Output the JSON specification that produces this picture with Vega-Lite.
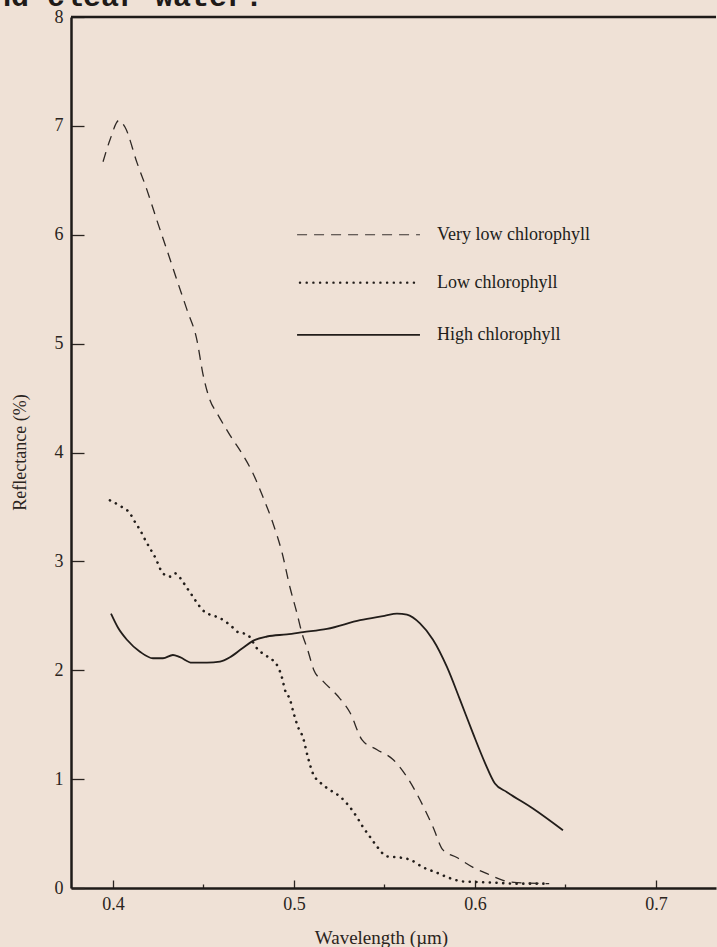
{
  "$schema": "https://vega.github.io/schema/vega-lite/v6.json",
  "width": 645,
  "height": 871,
  "autosize": {"type": "none"},
  "padding": {"left": 71, "top": 17, "right": 1, "bottom": 59},
  "background": "#efe1d6",
  "config": {
    "view": {"stroke": null},
    "font": "Liberation Serif"
  },
  "datasets": {
    "curves": [
      {"s": "High chlorophyll", "w": 0.3989, "r": 2.52},
      {"s": "High chlorophyll", "w": 0.4028, "r": 2.39},
      {"s": "High chlorophyll", "w": 0.4077, "r": 2.28},
      {"s": "High chlorophyll", "w": 0.4149, "r": 2.17},
      {"s": "High chlorophyll", "w": 0.4221, "r": 2.11},
      {"s": "High chlorophyll", "w": 0.4276, "r": 2.11},
      {"s": "High chlorophyll", "w": 0.4331, "r": 2.14},
      {"s": "High chlorophyll", "w": 0.437, "r": 2.12},
      {"s": "High chlorophyll", "w": 0.4436, "r": 2.07},
      {"s": "High chlorophyll", "w": 0.4519, "r": 2.07},
      {"s": "High chlorophyll", "w": 0.4591, "r": 2.08},
      {"s": "High chlorophyll", "w": 0.4646, "r": 2.12},
      {"s": "High chlorophyll", "w": 0.4713, "r": 2.2},
      {"s": "High chlorophyll", "w": 0.4773, "r": 2.27},
      {"s": "High chlorophyll", "w": 0.4851, "r": 2.31},
      {"s": "High chlorophyll", "w": 0.4961, "r": 2.33},
      {"s": "High chlorophyll", "w": 0.505, "r": 2.35},
      {"s": "High chlorophyll", "w": 0.5182, "r": 2.38},
      {"s": "High chlorophyll", "w": 0.5365, "r": 2.46},
      {"s": "High chlorophyll", "w": 0.55, "r": 2.5},
      {"s": "High chlorophyll", "w": 0.5569, "r": 2.52},
      {"s": "High chlorophyll", "w": 0.5624, "r": 2.51},
      {"s": "High chlorophyll", "w": 0.5696, "r": 2.43},
      {"s": "High chlorophyll", "w": 0.5768, "r": 2.28},
      {"s": "High chlorophyll", "w": 0.5845, "r": 2.03},
      {"s": "High chlorophyll", "w": 0.5917, "r": 1.73},
      {"s": "High chlorophyll", "w": 0.5989, "r": 1.42},
      {"s": "High chlorophyll", "w": 0.6055, "r": 1.15},
      {"s": "High chlorophyll", "w": 0.611, "r": 0.96},
      {"s": "High chlorophyll", "w": 0.6177, "r": 0.88},
      {"s": "High chlorophyll", "w": 0.632, "r": 0.73},
      {"s": "High chlorophyll", "w": 0.6486, "r": 0.53},

      {"s": "Low chlorophyll", "w": 0.3983, "r": 3.56},
      {"s": "Low chlorophyll", "w": 0.4039, "r": 3.51},
      {"s": "Low chlorophyll", "w": 0.4094, "r": 3.44},
      {"s": "Low chlorophyll", "w": 0.4122, "r": 3.36},
      {"s": "Low chlorophyll", "w": 0.4149, "r": 3.29},
      {"s": "Low chlorophyll", "w": 0.4177, "r": 3.2},
      {"s": "Low chlorophyll", "w": 0.4204, "r": 3.12},
      {"s": "Low chlorophyll", "w": 0.4232, "r": 3.04},
      {"s": "Low chlorophyll", "w": 0.4276, "r": 2.89},
      {"s": "Low chlorophyll", "w": 0.4315, "r": 2.86},
      {"s": "Low chlorophyll", "w": 0.4343, "r": 2.89},
      {"s": "Low chlorophyll", "w": 0.437, "r": 2.85},
      {"s": "Low chlorophyll", "w": 0.4403, "r": 2.77},
      {"s": "Low chlorophyll", "w": 0.4436, "r": 2.69},
      {"s": "Low chlorophyll", "w": 0.4464, "r": 2.62},
      {"s": "Low chlorophyll", "w": 0.4497, "r": 2.55},
      {"s": "Low chlorophyll", "w": 0.4536, "r": 2.51},
      {"s": "Low chlorophyll", "w": 0.4575, "r": 2.49},
      {"s": "Low chlorophyll", "w": 0.4619, "r": 2.45},
      {"s": "Low chlorophyll", "w": 0.4657, "r": 2.4},
      {"s": "Low chlorophyll", "w": 0.469, "r": 2.35},
      {"s": "Low chlorophyll", "w": 0.474, "r": 2.33},
      {"s": "Low chlorophyll", "w": 0.4801, "r": 2.19},
      {"s": "Low chlorophyll", "w": 0.484, "r": 2.14},
      {"s": "Low chlorophyll", "w": 0.4884, "r": 2.09},
      {"s": "Low chlorophyll", "w": 0.4912, "r": 2.03},
      {"s": "Low chlorophyll", "w": 0.4934, "r": 1.93},
      {"s": "Low chlorophyll", "w": 0.495, "r": 1.82},
      {"s": "Low chlorophyll", "w": 0.4978, "r": 1.73},
      {"s": "Low chlorophyll", "w": 0.4994, "r": 1.63},
      {"s": "Low chlorophyll", "w": 0.5022, "r": 1.48},
      {"s": "Low chlorophyll", "w": 0.505, "r": 1.38},
      {"s": "Low chlorophyll", "w": 0.5077, "r": 1.2},
      {"s": "Low chlorophyll", "w": 0.5105, "r": 1.05},
      {"s": "Low chlorophyll", "w": 0.5144, "r": 0.97},
      {"s": "Low chlorophyll", "w": 0.5199, "r": 0.9},
      {"s": "Low chlorophyll", "w": 0.5254, "r": 0.84},
      {"s": "Low chlorophyll", "w": 0.531, "r": 0.74},
      {"s": "Low chlorophyll", "w": 0.5348, "r": 0.65},
      {"s": "Low chlorophyll", "w": 0.5381, "r": 0.56},
      {"s": "Low chlorophyll", "w": 0.542, "r": 0.47},
      {"s": "Low chlorophyll", "w": 0.5459, "r": 0.38},
      {"s": "Low chlorophyll", "w": 0.5514, "r": 0.29},
      {"s": "Low chlorophyll", "w": 0.5586, "r": 0.28},
      {"s": "Low chlorophyll", "w": 0.5641, "r": 0.26},
      {"s": "Low chlorophyll", "w": 0.5713, "r": 0.19},
      {"s": "Low chlorophyll", "w": 0.579, "r": 0.14},
      {"s": "Low chlorophyll", "w": 0.5862, "r": 0.09},
      {"s": "Low chlorophyll", "w": 0.5934, "r": 0.06},
      {"s": "Low chlorophyll", "w": 0.601, "r": 0.055},
      {"s": "Low chlorophyll", "w": 0.61, "r": 0.05},
      {"s": "Low chlorophyll", "w": 0.623, "r": 0.04},
      {"s": "Low chlorophyll", "w": 0.641, "r": 0.04},

      {"s": "Very low chlorophyll", "w": 0.3945, "r": 6.67},
      {"s": "Very low chlorophyll", "w": 0.3983, "r": 6.87},
      {"s": "Very low chlorophyll", "w": 0.4033, "r": 7.05},
      {"s": "Very low chlorophyll", "w": 0.4066, "r": 6.99},
      {"s": "Very low chlorophyll", "w": 0.4133, "r": 6.66},
      {"s": "Very low chlorophyll", "w": 0.4188, "r": 6.41},
      {"s": "Very low chlorophyll", "w": 0.4243, "r": 6.13},
      {"s": "Very low chlorophyll", "w": 0.4298, "r": 5.86},
      {"s": "Very low chlorophyll", "w": 0.4354, "r": 5.58},
      {"s": "Very low chlorophyll", "w": 0.4409, "r": 5.31},
      {"s": "Very low chlorophyll", "w": 0.4464, "r": 5.03},
      {"s": "Very low chlorophyll", "w": 0.4497, "r": 4.72},
      {"s": "Very low chlorophyll", "w": 0.4536, "r": 4.48},
      {"s": "Very low chlorophyll", "w": 0.4575, "r": 4.36},
      {"s": "Very low chlorophyll", "w": 0.4646, "r": 4.16},
      {"s": "Very low chlorophyll", "w": 0.4713, "r": 3.99},
      {"s": "Very low chlorophyll", "w": 0.4773, "r": 3.81},
      {"s": "Very low chlorophyll", "w": 0.4829, "r": 3.59},
      {"s": "Very low chlorophyll", "w": 0.4884, "r": 3.35},
      {"s": "Very low chlorophyll", "w": 0.4934, "r": 3.08},
      {"s": "Very low chlorophyll", "w": 0.4978, "r": 2.76},
      {"s": "Very low chlorophyll", "w": 0.5017, "r": 2.52},
      {"s": "Very low chlorophyll", "w": 0.5044, "r": 2.34},
      {"s": "Very low chlorophyll", "w": 0.5075, "r": 2.19},
      {"s": "Very low chlorophyll", "w": 0.511, "r": 2.0},
      {"s": "Very low chlorophyll", "w": 0.516, "r": 1.9},
      {"s": "Very low chlorophyll", "w": 0.5238, "r": 1.77},
      {"s": "Very low chlorophyll", "w": 0.531, "r": 1.61},
      {"s": "Very low chlorophyll", "w": 0.5376, "r": 1.36},
      {"s": "Very low chlorophyll", "w": 0.5459, "r": 1.27},
      {"s": "Very low chlorophyll", "w": 0.5547, "r": 1.18},
      {"s": "Very low chlorophyll", "w": 0.5624, "r": 1.02},
      {"s": "Very low chlorophyll", "w": 0.5696, "r": 0.81},
      {"s": "Very low chlorophyll", "w": 0.5768, "r": 0.56},
      {"s": "Very low chlorophyll", "w": 0.5823, "r": 0.35},
      {"s": "Very low chlorophyll", "w": 0.59, "r": 0.28},
      {"s": "Very low chlorophyll", "w": 0.5989, "r": 0.19},
      {"s": "Very low chlorophyll", "w": 0.6083, "r": 0.12},
      {"s": "Very low chlorophyll", "w": 0.6155, "r": 0.07},
      {"s": "Very low chlorophyll", "w": 0.6232, "r": 0.05},
      {"s": "Very low chlorophyll", "w": 0.641, "r": 0.04}
    ],
    "one": [{}]
  },
  "layer": [
    {
      "data": {"name": "curves"},
      "transform": [{"filter": "datum.s === 'High chlorophyll'"}],
      "mark": {"type": "line", "interpolate": "monotone", "color": "#221d1a", "strokeWidth": 1.8},
      "encoding": {
        "x": {
          "field": "w", "type": "quantitative",
          "scale": {"domain": [0.3768, 0.73315], "nice": false, "zero": false},
          "axis": {
            "orient": "bottom",
            "values": [0.4, 0.45, 0.5, 0.55, 0.6, 0.65, 0.7],
            "labelExpr": "round(datum.value*100) % 10 == 0 ? format(datum.value, '.1f') : ''",
            "tickSize": {"condition": {"test": "round(datum.value*100) % 10 != 0", "value": -4}, "value": -8},
            "tickColor": "#2a2420",
            "tickWidth": 1.3,
            "domainColor": "#1e1a18",
            "domainWidth": 2.5,
            "grid": false,
            "labelFont": "Liberation Serif",
            "labelFontSize": 18,
            "labelColor": "#2a2420",
            "labelPadding": 15,
            "title": "Wavelength (µm)",
            "titleFont": "Liberation Serif",
            "titleFontSize": 19,
            "titleFontWeight": "normal",
            "titleColor": "#2a2420",
            "titleX": 310,
            "titleY": 49,
            "titleAlign": "center",
            "titleBaseline": "middle"
          }
        },
        "y": {
          "field": "r", "type": "quantitative",
          "scale": {"domain": [0, 8], "nice": false},
          "axis": {
            "values": [0, 1, 2, 3, 4, 5, 6, 7, 8],
            "format": "d",
            "tickSize": -13,
            "tickColor": "#2a2420",
            "tickWidth": 1.3,
            "domainColor": "#1e1a18",
            "domainWidth": 2.5,
            "grid": false,
            "labelFont": "Liberation Serif",
            "labelFontSize": 18,
            "labelColor": "#2a2420",
            "labelPadding": 21,
            "title": "Reflectance (%)",
            "titleFont": "Liberation Serif",
            "titleFontSize": 18,
            "titleFontWeight": "normal",
            "titleColor": "#2a2420",
            "titleX": -51,
            "titleY": 435,
            "titleAlign": "center",
            "titleBaseline": "middle"
          }
        }
      }
    },
    {
      "data": {"name": "curves"},
      "transform": [{"filter": "datum.s === 'Low chlorophyll'"}],
      "mark": {"type": "line", "interpolate": "monotone", "color": "#221d1a", "strokeWidth": 2.6, "strokeDash": [0.1, 6.6], "strokeCap": "round"},
      "encoding": {
        "x": {"field": "w", "type": "quantitative"},
        "y": {"field": "r", "type": "quantitative"}
      }
    },
    {
      "data": {"name": "curves"},
      "transform": [{"filter": "datum.s === 'Very low chlorophyll'"}],
      "mark": {"type": "line", "interpolate": "monotone", "color": "#2e2824", "strokeWidth": 1.3, "strokeDash": [10, 7]},
      "encoding": {
        "x": {"field": "w", "type": "quantitative"},
        "y": {"field": "r", "type": "quantitative"}
      }
    },
    {
      "data": {"name": "one"},
      "mark": {"type": "rule", "color": "#1e1a18", "strokeWidth": 2.5},
      "encoding": {"y": {"datum": 8, "type": "quantitative"}}
    },
    {
      "data": {"name": "one"},
      "mark": {"type": "text", "align": "left", "baseline": "alphabetic", "font": "Liberation Mono", "fontSize": 30, "fontWeight": "bold", "color": "#1e1a18"},
      "encoding": {
        "x": {"datum": 0.32376, "type": "quantitative"},
        "y": {"datum": 8.101, "type": "quantitative"},
        "text": {"value": "and clear water."}
      }
    },
    {
      "data": {"name": "one"},
      "mark": {"type": "rule", "color": "#3a3330", "strokeWidth": 1.2, "strokeDash": [10, 7]},
      "encoding": {
        "x": {"datum": 0.5017, "type": "quantitative"},
        "x2": {"datum": 0.5696},
        "y": {"datum": 6.0, "type": "quantitative"}
      }
    },
    {
      "data": {"name": "one"},
      "mark": {"type": "rule", "color": "#221d1a", "strokeWidth": 2.4, "strokeDash": [0.1, 6.6], "strokeCap": "round"},
      "encoding": {
        "x": {"datum": 0.5033, "type": "quantitative"},
        "x2": {"datum": 0.5696},
        "y": {"datum": 5.56, "type": "quantitative"}
      }
    },
    {
      "data": {"name": "one"},
      "mark": {"type": "rule", "color": "#221d1a", "strokeWidth": 1.8},
      "encoding": {
        "x": {"datum": 0.5017, "type": "quantitative"},
        "x2": {"datum": 0.5696},
        "y": {"datum": 5.08, "type": "quantitative"}
      }
    },
    {
      "data": {"name": "one"},
      "mark": {"type": "text", "align": "left", "baseline": "middle", "font": "Liberation Serif", "fontSize": 18, "color": "#221d1a"},
      "encoding": {
        "x": {"datum": 0.579, "type": "quantitative"},
        "y": {"datum": 6.0, "type": "quantitative"},
        "text": {"value": "Very low chlorophyll"}
      }
    },
    {
      "data": {"name": "one"},
      "mark": {"type": "text", "align": "left", "baseline": "middle", "font": "Liberation Serif", "fontSize": 18, "color": "#221d1a"},
      "encoding": {
        "x": {"datum": 0.579, "type": "quantitative"},
        "y": {"datum": 5.56, "type": "quantitative"},
        "text": {"value": "Low chlorophyll"}
      }
    },
    {
      "data": {"name": "one"},
      "mark": {"type": "text", "align": "left", "baseline": "middle", "font": "Liberation Serif", "fontSize": 18, "color": "#221d1a"},
      "encoding": {
        "x": {"datum": 0.579, "type": "quantitative"},
        "y": {"datum": 5.08, "type": "quantitative"},
        "text": {"value": "High chlorophyll"}
      }
    }
  ]
}
